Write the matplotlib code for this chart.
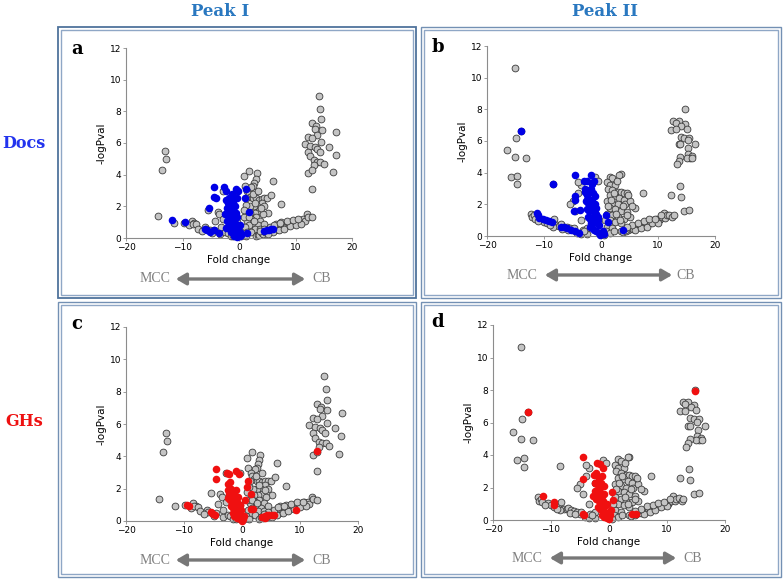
import numpy as np
import matplotlib
matplotlib.use("Agg")
import matplotlib.pyplot as plt
from matplotlib.patches import Rectangle, FancyArrowPatch

# ---- data: (fold change, -log p) ----
peak1_grey = [
    # left outliers / left arm
    (-13.1, 5.47), (-12.9, 4.97), (-13.7, 4.27), (-14.3, 1.39),
    (-11.5, 0.95), (-9.8, 0.97), (-8.4, 1.1), (-7.9, 0.95), (-8.8, 0.8), (-8.2, 0.9),
    (-7.6, 0.88), (-7.3, 0.6), (-6.0, 0.68), (-5.9, 0.55), (-5.1, 0.48), (-4.4, 0.5),
    (-3.3, 0.27), (-4.2, 1.05), (-3.8, 1.66), (-3.5, 1.5), (-2.8, 1.2), (-3.2, 0.7),
    (-2.5, 0.4), (-2.0, 0.3), (-1.5, 0.15), (-1.0, 0.1), (-2.8, 3.0), (-0.4, 3.0),
    (-5.4, 1.75), (-6.5, 0.45), (-4.8, 0.3), (-0.3, 1.0),
    # centre (right of zero)
    (0.8, 3.9), (1.8, 4.25), (3.1, 4.1), (3.0, 3.75), (2.7, 3.5), (2.5, 3.3), (2.2, 3.2),
    (1.0, 3.3), (1.5, 3.0), (1.8, 2.8), (2.0, 2.6), (2.5, 2.5), (3.0, 2.5), (3.5, 2.4),
    (4.0, 2.45), (4.5, 2.5), (5.0, 2.5), (5.7, 2.7), (6.0, 3.6), (4.0, 2.2), (3.2, 2.0),
    (2.6, 2.0), (1.9, 2.0), (1.2, 2.1), (4.5, 2.0), (5.2, 1.6), (3.5, 1.7), (2.8, 1.6),
    (2.0, 1.6), (1.5, 1.5), (4.2, 1.5), (3.0, 1.3), (2.2, 1.2), (1.4, 1.1), (3.8, 1.1),
    (0.9, 1.3), (2.5, 0.9), (1.8, 0.8), (3.3, 0.8), (1.0, 0.7), (2.8, 0.6), (1.5, 0.4),
    (0.7, 0.3), (2.2, 0.35), (0.4, 0.1), (1.2, 0.15), (3.8, 0.6), (4.5, 0.9), (2.4, 2.8),
    (3.4, 3.0), (1.3, 2.5), (0.8, 1.8), (2.9, 2.2), (3.9, 1.9), (1.7, 1.3), (2.6, 1.1),
    # right arm
    (3.0, 0.15), (3.3, 0.22), (3.6, 0.2), (4.0, 0.3), (4.3, 0.25), (4.6, 0.35), (5.0, 0.38),
    (5.3, 0.45), (5.6, 0.42), (6.0, 0.55), (6.3, 0.5), (6.6, 0.65), (6.9, 0.6), (7.2, 0.72),
    (7.5, 0.78), (7.8, 0.7), (8.0, 0.85), (8.3, 0.9), (8.6, 0.82), (8.9, 0.95), (9.2, 1.0),
    (9.5, 0.92), (9.8, 1.05), (10.1, 1.1), (10.4, 1.0), (10.7, 1.15), (11.0, 1.1),
    (11.3, 1.2), (11.6, 1.05), (12.0, 1.5), (12.3, 1.35), (12.9, 1.3), (7.5, 2.15),
    (6.0, 0.4), (7.0, 0.5), (8.0, 0.6), (9.0, 0.75), (10.0, 0.85), (11.0, 0.9), (5.5, 0.7),
    (6.5, 0.9), (7.5, 1.0), (8.5, 1.05), (9.5, 1.15), (10.5, 1.2), (4.5, 0.55), (3.8, 0.45),
    (5.2, 0.25), (6.2, 0.85), (7.2, 0.95),
    # right cluster
    (14.1, 9.0), (14.4, 8.17), (14.6, 7.5), (13.0, 7.26), (13.7, 7.05), (13.4, 6.9),
    (14.7, 6.85), (17.2, 6.7), (13.8, 6.5), (12.2, 6.4), (12.9, 6.3), (11.6, 5.96),
    (14.6, 6.06), (12.5, 5.8), (13.5, 5.75), (16.0, 5.75), (13.8, 5.65), (12.3, 5.45),
    (14.3, 5.45), (12.6, 5.15), (17.1, 5.26), (13.2, 4.9), (13.8, 4.8), (14.4, 4.8),
    (15.0, 4.65), (13.3, 4.6), (12.2, 4.1), (12.9, 4.27), (16.7, 4.17), (12.9, 3.07),
]

peak2_grey = [
    # left outliers / left arm
    (-15.1, 10.63), (-15.0, 6.2), (-16.5, 5.42), (-15.1, 5.0), (-13.1, 4.94),
    (-15.8, 3.7), (-14.7, 3.8), (-14.7, 3.28), (-14.0, 6.62), (-8.4, 3.3),
    (-12.3, 1.4), (-12.1, 1.2), (-11.8, 1.3), (-11.5, 1.1), (-10.5, 1.05), (-10.0, 0.9),
    (-9.5, 0.8), (-8.8, 0.9), (-8.3, 1.1), (-7.8, 0.7), (-7.3, 0.65), (-7.0, 0.75),
    (-6.5, 0.6), (-6.0, 0.55), (-5.5, 0.5), (-5.0, 0.4), (-4.8, 0.5), (-4.2, 0.2),
    (-3.5, 0.15), (-3.2, 0.35), (-2.5, 0.1), (-8.4, 0.6), (-9.0, 0.7), (-6.8, 0.45),
    (-5.8, 0.35), (-11.0, 0.95),
    # centre
    (-5.0, 2.2), (-5.5, 2.0), (-4.0, 2.7), (-3.5, 3.2), (-4.0, 3.4), (-2.5, 2.3),
    (-1.0, 3.7), (-0.5, 3.5), (-4.5, 1.6), (-3.5, 1.0), (-2.5, 0.5), (-3.0, 0.3),
    (3.5, 3.9), (3.2, 3.85), (1.5, 3.75), (2.0, 3.65), (1.0, 3.4), (1.5, 3.2), (2.5, 3.2),
    (1.2, 3.0), (2.0, 2.9), (3.0, 2.8), (3.5, 2.75), (4.0, 2.7), (4.5, 2.7), (1.5, 2.6),
    (2.5, 2.5), (3.2, 2.4), (4.0, 2.3), (1.0, 2.2), (2.0, 2.1), (3.0, 2.0), (4.2, 2.0),
    (5.0, 2.2), (1.5, 1.8), (2.5, 1.7), (3.5, 1.6), (4.5, 1.5), (6.0, 1.8), (1.0, 1.4),
    (2.0, 1.3), (3.0, 1.2), (4.0, 1.1), (5.0, 1.2), (1.5, 1.0), (2.5, 0.9), (3.5, 0.8),
    (4.5, 1.3), (1.0, 0.6), (2.0, 0.5), (0.8, 0.3), (1.5, 0.2), (0.5, 0.05), (2.8, 3.5),
    (2.2, 2.7), (3.8, 1.9), (1.8, 2.3), (2.7, 1.4), (3.3, 1.0), (1.2, 1.9), (5.5, 1.9),
    (4.8, 2.6), (0.7, 1.0), (2.3, 0.3),
    # right arm
    (3.5, 0.3), (3.8, 0.25), (4.1, 0.35), (4.4, 0.3), (4.7, 0.4), (5.0, 0.45), (5.3, 0.5),
    (5.6, 0.45), (5.9, 0.55), (6.2, 0.6), (6.5, 0.55), (6.8, 0.7), (7.1, 0.65), (7.4, 0.75),
    (7.7, 0.8), (8.0, 0.75), (8.3, 0.9), (8.6, 0.85), (8.9, 0.95), (9.2, 1.0), (9.5, 0.95),
    (9.8, 1.05), (10.1, 1.0), (10.4, 1.1), (10.7, 1.2), (11.0, 1.45), (11.3, 1.15),
    (11.6, 1.3), (12.0, 1.35), (12.5, 1.2), (12.8, 1.3), (7.3, 2.72), (6.0, 0.4),
    (7.0, 0.5), (8.0, 0.6), (9.0, 0.8), (10.0, 0.85), (5.5, 0.7), (6.5, 0.85), (7.5, 0.95),
    (8.5, 1.05), (9.5, 1.1), (4.5, 0.55), (10.5, 1.3),
    # right cluster
    (14.8, 7.99), (12.7, 7.27), (13.7, 7.25), (13.1, 7.15), (14.7, 7.1), (14.1, 6.96),
    (12.3, 6.68), (13.1, 6.73), (15.0, 6.75), (14.0, 6.26), (14.6, 6.2), (15.5, 6.2),
    (15.2, 6.05), (13.7, 5.78), (13.9, 5.78), (16.5, 5.78), (15.3, 5.53), (15.2, 5.15),
    (15.9, 5.06), (15.6, 4.94), (15.0, 4.9), (16.0, 4.9), (13.9, 5.0), (13.7, 4.73),
    (13.3, 4.52), (13.8, 3.15), (14.0, 2.48), (12.2, 2.59), (14.6, 1.58), (15.5, 1.64),
]

docs_peak1 = [
    (-2.3, 2.4), (-2.0, 2.2), (-1.8, 2.5), (-1.5, 2.3), (-1.2, 2.4), (-1.0, 2.2), (-0.7, 2.0),
    (-2.2, 1.9), (-1.9, 1.8), (-1.6, 1.9), (-1.3, 1.7), (-1.0, 1.8), (-0.6, 1.6), (-2.4, 1.5),
    (-2.0, 1.4), (-1.7, 1.5), (-1.4, 1.3), (-1.1, 1.4), (-0.8, 1.2), (-0.4, 1.3), (-2.1, 1.1),
    (-1.8, 1.0), (-1.5, 1.1), (-1.2, 0.9), (-0.9, 1.0), (-0.5, 0.9), (-2.3, 0.65), (-1.9, 0.7),
    (-1.6, 0.6), (-1.3, 0.7), (-1.0, 0.6), (-0.7, 0.5), (-0.3, 0.6), (-1.5, 0.35), (-1.0, 0.3),
    (-0.6, 0.25), (-0.2, 0.3), (0.2, 0.4), (-0.8, 0.1), (-0.3, 0.05), (0.1, 0.1), (0.4, 0.2),
    (-1.2, 2.8), (-1.5, 2.0), (-0.9, 2.6), (-0.3, 2.5), (0.2, 0.8),
    (-4.5, 3.2), (-4.5, 2.6), (-4.1, 2.55), (-5.3, 1.9), (-2.7, 3.2), (-2.3, 3.0), (-0.5, 3.1),
    (-0.2, 2.95), (1.2, 3.1), (1.0, 2.5), (1.7, 1.65), (-11.8, 1.15), (-9.5, 1.0), (-6.0, 0.6),
    (-5.6, 0.5), (-5.2, 0.4), (-4.5, 0.5), (-3.5, 0.3), (4.5, 0.45), (4.9, 0.5), (5.3, 0.5),
    (5.7, 0.55), (6.0, 0.6), (1.5, 0.3),
]

docs_peak2 = [
    (-14.0, 6.62), (-8.4, 3.3), (-4.5, 3.88), (-1.7, 3.85), (-3.0, 3.45), (-2.4, 3.5),
    (-1.2, 3.5), (-1.5, 3.3), (-2.8, 3.0), (-4.5, 2.5), (-4.6, 2.3), (-4.7, 1.6), (-3.7, 1.65),
    (-11.3, 1.45), (-11.1, 1.35), (-10.9, 1.15), (-10.1, 1.05), (-9.6, 1.0), (-9.1, 0.95),
    (-8.6, 0.9), (-7.0, 0.6), (-6.5, 0.55), (-6.0, 0.5), (-5.3, 0.4), (-4.6, 0.3), (-3.8, 0.2),
    (1.3, 0.9), (0.9, 1.3), (3.8, 0.4),
    (-2.8, 2.8), (-2.5, 2.6), (-2.1, 2.9), (-1.8, 3.0), (-1.4, 2.7), (-1.0, 2.5), (-2.6, 2.2),
    (-2.2, 2.1), (-1.9, 2.3), (-1.5, 2.2), (-1.1, 2.0), (-0.8, 1.8), (-2.5, 1.7), (-2.1, 1.6),
    (-1.7, 1.8), (-1.3, 1.5), (-0.9, 1.4), (-0.5, 1.2), (-2.3, 1.2), (-1.9, 1.1), (-1.5, 1.0),
    (-1.1, 0.9), (-0.7, 0.8), (-0.3, 0.7), (-2.0, 0.6), (-1.6, 0.5), (-1.2, 0.4), (-0.8, 0.3),
    (-0.4, 0.2), (0.0, 0.1), (0.3, 0.3), (-0.2, 0.05), (0.5, 0.15), (-1.8, 0.8), (-1.4, 1.2),
    (-1.0, 1.7), (-0.6, 1.0),
]

ghs_peak1 = [
    (13.0, 4.35), (9.3, 0.65), (-9.5, 1.0), (-9.2, 0.95), (-5.4, 0.55), (-5.0, 0.45),
    (-4.6, 0.4), (3.5, 0.25), (3.9, 0.3), (4.3, 0.35), (4.7, 0.35), (5.1, 0.4), (5.5, 0.4),
    (4.0, 0.2), (-4.5, 3.2), (-4.5, 2.6), (-2.6, 2.95), (-2.2, 2.9), (-1.0, 3.1), (-0.6, 2.9),
    (1.0, 2.5), (0.8, 2.1), (1.6, 1.65), (1.5, 0.75), (1.9, 0.75), (0.6, 1.3), (-2.0, 2.4),
    (-2.4, 2.3),
    (-2.5, 1.9), (-2.2, 1.7), (-1.9, 2.0), (-1.6, 1.8), (-1.3, 1.6), (-1.0, 1.9), (-0.7, 1.5),
    (-2.4, 1.4), (-2.0, 1.3), (-1.7, 1.2), (-1.4, 1.4), (-1.1, 1.1), (-0.8, 1.2), (-0.4, 1.0),
    (-1.9, 0.9), (-1.5, 0.8), (-1.2, 0.7), (-0.9, 0.6), (-0.5, 0.5), (-0.2, 0.4), (-1.3, 0.3),
    (-0.8, 0.2), (-0.3, 0.1), (0.1, 0.15), (0.3, 0.3), (-0.1, 0.7), (-1.6, 0.5), (0.0, 0.02),
]

ghs_peak2 = [
    (-14.0, 6.62), (14.8, 7.95), (-4.5, 3.9), (-4.5, 2.5), (-11.3, 1.45), (-9.5, 1.1),
    (-9.4, 0.95), (-4.5, 0.35), (-4.3, 0.3), (4.0, 0.4), (4.7, 0.35), (-2.0, 3.5), (-1.5, 3.45),
    (-1.1, 3.2), (-2.2, 2.9), (-2.6, 2.8), (-1.8, 2.6), (-1.2, 2.7), (0.6, 1.7), (0.7, 1.25),
    (-0.3, 1.0),
    (-2.5, 2.3), (-2.1, 2.2), (-1.7, 2.0), (-1.3, 2.3), (-0.9, 2.1), (-2.4, 1.8), (-2.0, 1.6),
    (-1.6, 1.7), (-1.2, 1.5), (-0.8, 1.6), (-2.2, 1.3), (-1.8, 1.2), (-1.4, 1.1), (-1.0, 1.2),
    (-0.6, 0.9), (-1.9, 0.8), (-1.5, 0.7), (-1.1, 0.6), (-0.7, 0.5), (-0.3, 0.4), (-1.2, 0.3),
    (-0.8, 0.2), (-0.4, 0.1), (0.0, 0.05), (0.2, 0.3), (0.4, 0.6), (-1.0, 0.9), (-2.8, 1.5),
]

W, H = 784, 579
fig = plt.figure(figsize=(W / 100, H / 100), dpi=100)


def fx(px):
    return px / W


def fy(py):
    return 1 - py / H


# panel frames (double line), pixel boxes x0, y0, x1, y1
frames = [(58, 27, 416, 298), (421, 27, 781, 298), (58, 302, 416, 577), (421, 302, 781, 577)]
for i, (x0, y0, x1, y1) in enumerate(frames):
    c_out = '#4f739c' if i == 0 else '#7390b3'
    fig.add_artist(Rectangle((fx(x0), fy(y1)), fx(x1 - x0), (y1 - y0) / H, fill=False,
                             ec=c_out, lw=1.3 if i == 0 else 1.0, transform=fig.transFigure))
    fig.add_artist(Rectangle((fx(x0 + 3), fy(y1 - 3)), fx(x1 - x0 - 6), (y1 - y0 - 6) / H,
                             fill=False, ec='#8fa7c6', lw=1.0, transform=fig.transFigure))

# headers
serif = ['DejaVu Serif']
fig.text(fx(220), fy(12), 'Peak I', color='#2a78c0', fontsize=12, fontweight='bold',
         family=serif, ha='center', va='center')
fig.text(fx(605), fy(12), 'Peak II', color='#2a78c0', fontsize=12, fontweight='bold',
         family=serif, ha='center', va='center')
fig.text(fx(24), fy(143), 'Docs', color='#2233ee', fontsize=11.5, fontweight='bold',
         family=serif, ha='center', va='center')
fig.text(fx(24), fy(422), 'GHs', color='#ee1111', fontsize=11.5, fontweight='bold',
         family=serif, ha='center', va='center')

# axes boxes in pixels: left, top, right, bottom
boxes = [(126, 48, 352, 238), (487, 46, 715, 236), (126, 327, 358, 521), (493, 325, 725, 520)]
grey_sets = [peak1_grey, peak2_grey, peak1_grey, peak2_grey]
hi_sets = [docs_peak1, docs_peak2, ghs_peak1, ghs_peak2]
hi_colors = ['#0000e6', '#0000e6', '#f01010', '#f01010']
letters = ['a', 'b', 'c', 'd']
letter_pos = [(77, 49), (438, 47), (77, 324), (438, 322)]
arrows = [(155, 173, 308, 322, 279), (522, 542, 675, 686, 275),
          (155, 173, 308, 322, 560), (527, 547, 679, 693, 558)]

for k in range(4):
    l, t, r, b = boxes[k]
    ax = fig.add_axes([fx(l), fy(b), (r - l) / W, (b - t) / H])
    g = np.array(grey_sets[k])
    hpts = np.array(hi_sets[k])
    ax.scatter(g[:, 0], g[:, 1], s=24, facecolor='#c4c4c4', edgecolor='#3a3a3a',
               linewidth=0.6, clip_on=False, zorder=2)
    ax.scatter(hpts[:, 0], hpts[:, 1], s=30, color=hi_colors[k], linewidth=0,
               clip_on=False, zorder=3)
    ax.set_xlim(-20, 20)
    ax.set_ylim(0, 12)
    ax.set_xticks([-20, -10, 0, 10, 20])
    ax.set_yticks([0, 2, 4, 6, 8, 10, 12])
    for s in ['top', 'right']:
        ax.spines[s].set_visible(False)
    for s in ['left', 'bottom']:
        ax.spines[s].set_color('#8c8c8c')
        ax.spines[s].set_linewidth(0.8)
    ax.tick_params(labelsize=6.5, length=2, width=0.6, color='#8c8c8c', pad=1.5)
    ax.set_xlabel('Fold change', fontsize=7.5, labelpad=2)
    ax.set_ylabel('-logPval', fontsize=7.5, labelpad=2)

    lx, ly = letter_pos[k]
    fig.text(fx(lx), fy(ly), letters[k], fontsize=13, fontweight='bold', family=serif,
             ha='center', va='center')

    mx, a0, a1, cx, ay = arrows[k]
    fig.text(fx(mx), fy(ay), 'MCC', color='#808080', fontsize=10,
             family=['Liberation Serif'], ha='center', va='center')
    fig.text(fx(cx), fy(ay), 'CB', color='#808080', fontsize=10,
             family=['Liberation Serif'], ha='center', va='center')
    fig.add_artist(FancyArrowPatch((fx(a0), fy(ay)), (fx(a1), fy(ay)), transform=fig.transFigure,
                                   arrowstyle='<|-|>,head_length=6,head_width=3.5',
                                   color='#777777', lw=2.4, mutation_scale=1))

fig.savefig('out.png', dpi=100)
